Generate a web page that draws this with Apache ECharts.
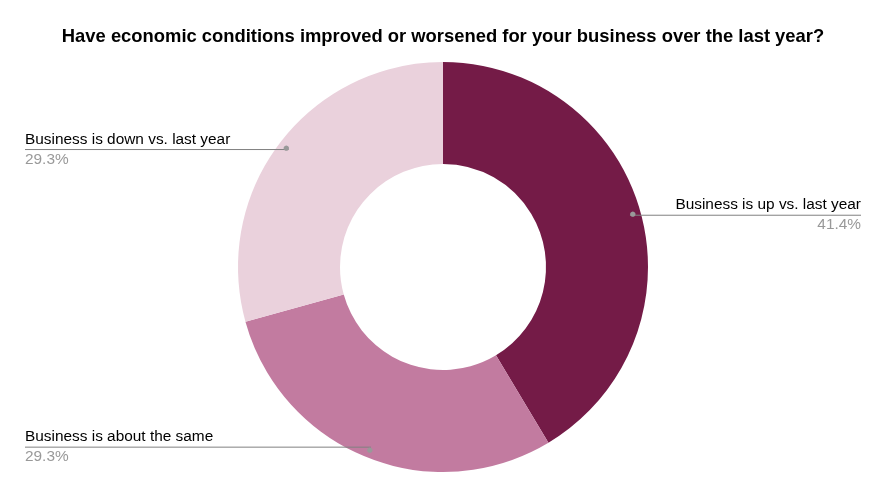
<!DOCTYPE html>
<html>
<head>
<meta charset="utf-8">
<script src="https://cdn.jsdelivr.net/npm/echarts@6/dist/echarts.min.js"></script>
<style>html,body{margin:0;padding:0;background:#fff}#c{width:886px;height:497px}</style>
</head>
<body>
<div id="c"></div>
<script>
const titleText = 'Have economic conditions improved or worsened for your business over the last year?';
const categories = ['Business is up vs. last year', 'Business is about the same', 'Business is down vs. last year'];
const values = [41.4, 29.3, 29.3];
const colors = ['#741b47', '#c27ba0', '#ead1dc'];

const FONT = '"Liberation Sans", Arial, sans-serif';
const CENTER = [443, 267];
const OUTER = 205, INNER = 103, ANCHOR = 194;

const chart = echarts.init(document.getElementById('c'), null, { renderer: 'canvas' });
chart.setOption({
  animation: false,
  backgroundColor: '#ffffff',
  title: {
    text: titleText,
    left: 'center',
    top: 23,
    textStyle: { fontFamily: FONT, fontSize: 18.4, fontWeight: 'bold', color: '#000' }
  },
  series: [
    {
      // visible donut
      type: 'pie',
      z: 1,
      center: CENTER,
      radius: [INNER, OUTER],
      startAngle: 90,
      clockwise: true,
      silent: true,
      data: categories.map((c, i) => ({ name: c, value: values[i], itemStyle: { color: colors[i] } })),
      label: { show: false },
      labelLine: { show: false }
    },
    {
      // transparent ring that carries the labels, its edge sits at the anchor dots
      type: 'pie',
      z: 5,
      center: CENTER,
      radius: [ANCHOR - 4, ANCHOR],
      startAngle: 90,
      clockwise: true,
      silent: true,
      percentPrecision: 1,
      data: categories.map((c, i) => ({ name: c, value: values[i] })),
      itemStyle: { color: 'rgba(0,0,0,0)' },
      emphasis: { disabled: true },
      label: {
        show: true,
        position: 'outside',
        alignTo: 'edge',
        edgeDistance: 25,
        formatter: '{n|{b}}\n{p|{d}%}',
        rich: {
          n: { fontFamily: FONT, fontSize: 15.4, color: '#000', lineHeight: 20 },
          p: { fontFamily: FONT, fontSize: 15.4, color: '#999999', lineHeight: 20 }
        }
      },
      labelLine: { show: true, length: 10, length2: 10, lineStyle: { color: '#808080', width: 1 } },
      labelLayout: function (params) {
        const pts = params.labelLinePoints;
        if (!pts || pts.length < 3) return {};
        const p0 = pts[0], p1 = pts[1], p2 = pts[2];
        const r = params.labelRect;
        const right = p2[0] > p1[0];
        const fx = right ? r.x + r.width : r.x;
        return {
          y: p0[1],
          verticalAlign: 'middle',
          labelLinePoints: [[p0[0], p0[1]], [fx, p0[1]]]
        };
      }
    },
    {
      // anchor dots
      type: 'pie',
      z: 6,
      center: CENTER,
      radius: [ANCHOR - 6, ANCHOR + 6],
      startAngle: 90,
      clockwise: true,
      silent: true,
      data: categories.map((c, i) => ({ name: c, value: values[i] })),
      itemStyle: { color: 'rgba(0,0,0,0)' },
      emphasis: { disabled: true },
      labelLine: { show: false },
      label: {
        show: true,
        position: 'inside',
        formatter: '●',
        fontFamily: '"DejaVu Sans", sans-serif',
        fontSize: 7,
        color: '#999999',
        align: 'center',
        verticalAlign: 'middle'
      }
    }
  ]
});
</script>
</body>
</html>
